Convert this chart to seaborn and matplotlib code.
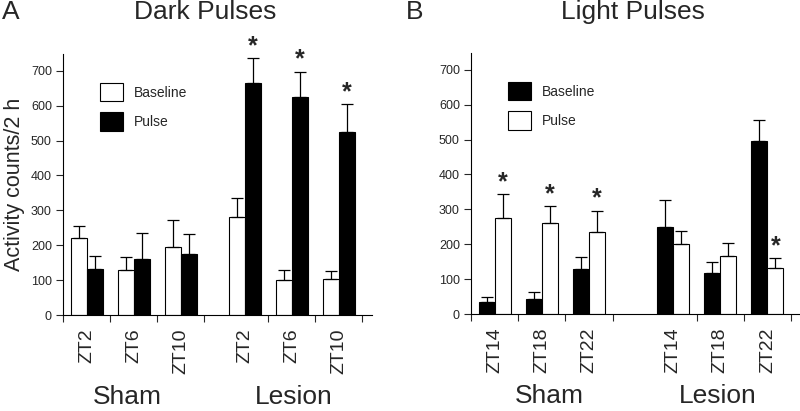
import matplotlib
matplotlib.use("Agg")
import matplotlib.pyplot as plt
from matplotlib.patches import Patch
import seaborn as sns
import pandas as pd

# data (mean, upper SEM)
zt_dark = ["ZT2", "ZT6", "ZT10"]
zt_light = ["ZT14", "ZT18", "ZT22"]
groups = ["Sham", "Lesion"]

dark_baseline = [222, 128, 194, 280, 100, 102]
dark_baseline_err = [34, 39, 78, 54, 28, 23]
dark_pulse = [133, 161, 176, 665, 625, 525]
dark_pulse_err = [36, 73, 55, 71, 72, 79]
dark_stars = [False, False, False, True, True, True]

light_baseline = [34, 44, 129, 250, 117, 497]
light_baseline_err = [14, 19, 34, 78, 33, 60]
light_pulse = [276, 261, 235, 201, 166, 132]
light_pulse_err = [67, 48, 61, 38, 38, 28]
light_stars = [True, True, True, False, False, True]

sns.set_style("ticks")
plt.rcParams["font.family"] = ["Liberation Sans", "DejaVu Sans"]

fig = plt.figure(figsize=(8, 4.11), dpi=100)
ax_a = fig.add_axes([63 / 800, 96 / 411, 309 / 800, 261 / 411])
ax_b = fig.add_axes([471 / 800, 97 / 411, 329 / 800, 261 / 411])


def panel(ax, labels, base, base_err, pulse, pulse_err, stars, lesion_offset, colors, xmax,
          group_x):
    pos = [0, 1, 2] + [lesion_offset + i for i in range(3)]
    df = pd.DataFrame({
        "pos": pos * 2,
        "value": base + pulse,
        "err": base_err + pulse_err,
        "star": [False] * 6 + stars,
        "cond": ["Baseline"] * 6 + ["Pulse"] * 6,
    })
    sns.barplot(data=df, x="pos", y="value", hue="cond", hue_order=["Baseline", "Pulse"],
                palette=colors, native_scale=True, width=0.68, errorbar=None,
                edgecolor="black", linewidth=0.8, legend=False, ax=ax)

    # error bars (upper only) and stars, one container per condition
    for cont, cond in zip(ax.containers, ["Baseline", "Pulse"]):
        sub = df[df["cond"] == cond].sort_values("pos")
        for bar, (_, row) in zip(cont, sub.iterrows()):
            xc = bar.get_x() + bar.get_width() / 2
            ax.errorbar(xc, row["value"], yerr=[[0], [row["err"]]], color="black",
                        elinewidth=0.9, capsize=4, capthick=0.9, zorder=5)
            if row["star"]:
                ax.annotate("*", (xc, row["value"] + row["err"]), xytext=(0, 0),
                            textcoords="offset points", ha="center", va="bottom",
                            fontsize=18, fontweight="bold")

    ax.set_xlim(-0.5, xmax)
    ax.set_ylim(0, 748)
    ax.set_yticks(range(0, 701, 100))
    ax.tick_params(axis="y", labelsize=9, length=5, width=0.8, pad=3, direction="out")
    # slot boundaries as ticks, ZT labels in the slot centres
    bounds = [-0.5, 0.5, 1.5, 2.5] + [lesion_offset + 0.5 + i for i in range(3)]
    ax.set_xticks(bounds, [""] * len(bounds))
    ax.set_xticks(pos, labels * 2, minor=True, rotation=90, fontsize=14)
    ax.tick_params(axis="x", which="major", length=5, width=0.8, direction="out")
    ax.tick_params(axis="x", which="minor", length=0, pad=9.5)
    for lab in ax.get_xticklabels(minor=True):
        lab.set_verticalalignment("top")
    ax.set_xlabel("")
    ax.set_ylabel("")
    sns.despine(ax=ax)
    for s in ["left", "bottom"]:
        ax.spines[s].set_linewidth(0.8)
        ax.spines[s].set_color("black")

    trans = ax.get_xaxis_transform()
    for name, gx in zip(groups, group_x):
        ax.text(gx, -0.315, name, transform=trans, ha="center", va="center", fontsize=19)

    handles = [Patch(facecolor=colors[c], edgecolor="black", linewidth=0.8, label=c)
               for c in ["Baseline", "Pulse"]]
    ax.legend(handles=handles, loc="upper left", frameon=False, fontsize=10,
              handlelength=1.65, handleheight=1.65, labelspacing=0.8, handletextpad=0.8,
              borderpad=0, borderaxespad=0)


panel(ax_a, zt_dark, dark_baseline, dark_baseline_err, dark_pulse, dark_pulse_err,
      dark_stars, 3.36, {"Baseline": "white", "Pulse": "black"}, 6.07, (0.87, 4.40))
panel(ax_b, zt_light, light_baseline, light_baseline_err, light_pulse, light_pulse_err,
      light_stars, 3.78, {"Baseline": "black", "Pulse": "white"}, 6.47, (1.17, 4.73))

ax_a.get_legend().set_bbox_to_anchor((0.12, 0.889), transform=ax_a.transAxes)
ax_b.get_legend().set_bbox_to_anchor((0.112, 0.889), transform=ax_b.transAxes)

ax_a.set_ylabel("Activity counts/2 h", fontsize=15.5, labelpad=4)

fig.text(205 / 800, 1 - 12 / 411, "Dark Pulses", ha="center", va="center", fontsize=19)
fig.text(633 / 800, 1 - 12 / 411, "Light Pulses", ha="center", va="center", fontsize=19)
fig.text(2 / 800, 1 - 12 / 411, "A", ha="left", va="center", fontsize=19)
fig.text(406 / 800, 1 - 12 / 411, "B", ha="left", va="center", fontsize=19)

fig.savefig("out.png", dpi=100)
